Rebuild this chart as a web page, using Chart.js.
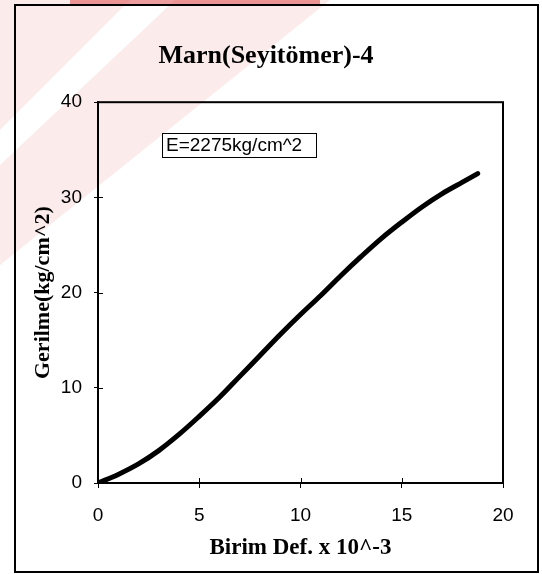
<!DOCTYPE html>
<html><head><meta charset="utf-8">
<script src="https://cdn.jsdelivr.net/npm/chart.js@4"></script>
<style>html,body{margin:0;padding:0;background:#fff;} #wrap{width:542px;height:574px;}</style>
</head><body><div id="wrap"><canvas id="c" width="542" height="574"></canvas></div>
<script>
const strainX = [0, 1, 2, 3, 4, 5, 6, 7, 8, 9, 10, 11, 12, 13, 14, 15, 16, 17, 18, 18.75];
const stressY = [0, 0.9, 2.0, 3.4, 5.1, 7.0, 9.0, 11.2, 13.4, 15.6, 17.7, 19.7, 21.8, 23.8, 25.7, 27.4, 29.0, 30.4, 31.6, 32.5];
const xTickValues = [0, 5, 10, 15, 20];
const yTickValues = [0, 10, 20, 30, 40];
const chartTitle = 'Marn(Seyitömer)-4';
const xTitle = 'Birim Def. x 10^-3';
const yTitle = 'Gerilme(kg/cm^2)';
const noteText = 'E=2275kg/cm^2';

const points = strainX.map((x, i) => ({x: x, y: stressY[i]}));

const decor = {
  id: 'decor',
  beforeDraw(chart) {
    const ctx = chart.ctx;
    ctx.save();
    ctx.fillStyle = '#ffffff';
    ctx.fillRect(0, 0, chart.width, chart.height);
    // faint scan watermark bands
    ctx.fillStyle = 'rgba(235,130,130,0.16)';
    ctx.beginPath();
    ctx.moveTo(0, 0); ctx.lineTo(130, 0); ctx.lineTo(0, 130); ctx.closePath();
    ctx.fill();
    ctx.beginPath();
    ctx.moveTo(175, 0); ctx.lineTo(330, 0); ctx.lineTo(0, 265); ctx.lineTo(0, 165); ctx.closePath();
    ctx.fill();
    ctx.fillStyle = 'rgba(220,60,60,0.5)';
    ctx.fillRect(70, 0, 250, 4);
    ctx.restore();
  },
  afterDraw(chart) {
    const ctx = chart.ctx;
    const a = chart.chartArea;
    const xs = chart.scales.x, ys = chart.scales.y;
    ctx.save();
    ctx.strokeStyle = '#000';
    // outer frame
    ctx.lineWidth = 2;
    ctx.strokeRect(15, 5, 523, 567);
    // plot frame
    ctx.strokeRect(a.left, a.top, a.right - a.left, a.bottom - a.top);
    // inner tick halves
    ctx.lineWidth = 1;
    ctx.beginPath();
    yTickValues.forEach(v => { const p = Math.round(ys.getPixelForValue(v)) + 0.5; ctx.moveTo(a.left, p); ctx.lineTo(a.left + 5, p); });
    xTickValues.forEach(v => { const p = Math.round(xs.getPixelForValue(v)) + 0.5; ctx.moveTo(p, a.bottom); ctx.lineTo(p, a.bottom - 5); });
    ctx.stroke();
    // annotation box
    ctx.font = '19px "Liberation Sans", Arial, sans-serif';
    const w = ctx.measureText(noteText).width;
    const bx = 162, by = 133, bw = Math.max(154, w + 8), bh = 24;
    ctx.fillStyle = '#fff';
    ctx.fillRect(bx, by, bw, bh);
    ctx.strokeRect(bx + 0.5, by + 0.5, bw, bh);
    ctx.fillStyle = '#000';
    ctx.textBaseline = 'middle';
    ctx.textAlign = 'left';
    ctx.fillText(noteText, bx + 4, by + bh / 2 + 1);
    ctx.restore();
  }
};

new Chart(document.getElementById('c'), {
  type: 'line',
  data: {
    datasets: [{
      data: points,
      borderColor: '#000',
      borderWidth: 5,
      pointRadius: 0,
      tension: 0.35,
      fill: false,
      borderCapStyle: 'round'
    }]
  },
  options: {
    responsive: false,
    devicePixelRatio: 1,
    animation: false,
    layout: { padding: { top: 0, right: 39, bottom: 0, left: 29 } },
    plugins: {
      legend: { display: false },
      tooltip: { enabled: false },
      title: {
        display: true,
        text: chartTitle,
        color: '#000',
        font: { family: '"Liberation Serif", "Times New Roman", serif', size: 26, weight: 'bold' },
        padding: { top: 41, bottom: 30 }
      }
    },
    scales: {
      x: {
        type: 'linear',
        min: 0, max: 20,
        afterBuildTicks: s => { s.ticks = xTickValues.map(v => ({value: v})); },
        afterFit: s => { s.height = 91; },
        ticks: { color: '#000', padding: 16, maxRotation: 0, font: { family: '"Liberation Sans", Arial, sans-serif', size: 19 } },
        grid: { drawOnChartArea: false, drawTicks: true, tickLength: 5, color: '#000', lineWidth: 1 },
        border: { display: true, color: '#000', width: 2 },
        title: { display: true, text: xTitle, color: '#000', font: { family: '"Liberation Serif", "Times New Roman", serif', size: 23, weight: 'bold' }, padding: { top: 0, bottom: 12 } }
      },
      y: {
        type: 'linear',
        min: 0, max: 40,
        afterBuildTicks: s => { s.ticks = yTickValues.map(v => ({value: v})); },
        afterFit: s => { s.width = 69; },
        ticks: { color: '#000', padding: 12, font: { family: '"Liberation Sans", Arial, sans-serif', size: 19 } },
        grid: { drawOnChartArea: false, drawTicks: true, tickLength: 4, color: '#000', lineWidth: 1 },
        border: { display: true, color: '#000', width: 2 },
        title: { display: true, text: yTitle, color: '#000', font: { family: '"Liberation Serif", "Times New Roman", serif', size: 22, weight: 'bold' }, padding: { top: 1, bottom: 0 } }
      }
    }
  },
  plugins: [decor]
});
</script>
</body></html>
